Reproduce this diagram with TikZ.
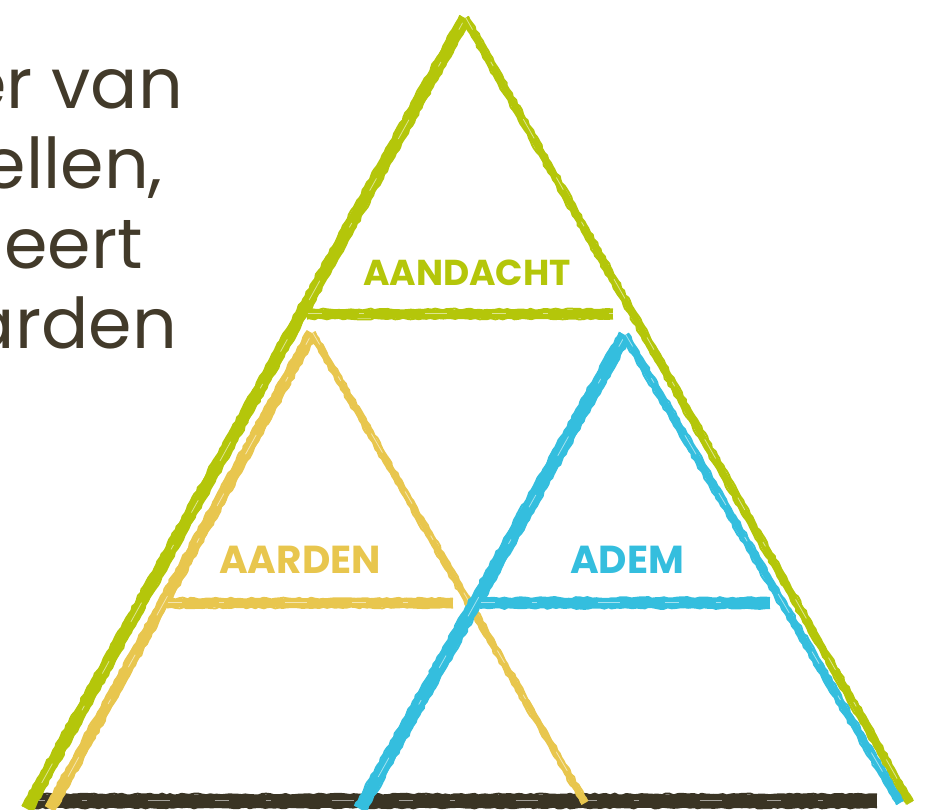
\documentclass[tikz,border=0pt]{standalone}
\usepackage{fontspec}
\setmainfont{Poppins}
\usetikzlibrary{calc, decorations.pathmorphing}
\definecolor{aandacht}{RGB}{180,198,10}
\definecolor{aarden}{RGB}{232,198,78}
\definecolor{adem}{RGB}{52,190,222}
\definecolor{grond}{RGB}{58,52,36}
\definecolor{tekst}{RGB}{66,58,42}
\tikzset{
    label text/.style={inner sep=0pt, font=\fontsize{#1}{#1}\selectfont\bfseries},
    body text/.style={inner sep=0pt, anchor=base east, text=tekst, font=\fontsize{70}{80}\selectfont},
    streak/.style={white, opacity=0.55, line width=0.8pt, dash pattern=on 14pt off 37pt on 5pt off 61pt on 22pt off 45pt},
    rough/.style={line width=2pt, line join=round, decorate, decoration={random steps, segment length=4pt, amplitude=0.9pt}},
}
\pgfmathsetseed{7}
% brush stroke between two named points: colour, width, from, to, half width
\newcommand{\brush}[5]{%
  \draw[#1, line width=#2, line cap=butt] (#3) -- (#4);
  \draw[#1, rough] ($(#3)!#5!90:(#4)$) -- ($(#4)!#5!-90:(#3)$);
  \draw[#1, rough] ($(#3)!#5!-90:(#4)$) -- ($(#4)!#5!90:(#3)$);
  \draw[streak, transform canvas={shift={(0.6pt,0.6pt)}}] (#3) -- (#4);
}
\begin{document}
\begin{tikzpicture}[x=1pt, y=-1pt]
    \useasboundingbox (0,0) rectangle (928,809);
    \clip (0,0) rectangle (928,809);

    % left text (cut off)
    \node[body text] (t1) at (183,108) {er van};
    \node[body text] (t2) at (163,188) {ellen,};
    \node[body text] (t3) at (143,268) {eert};
    \node[body text] (t4) at (177,348) {arden};

    % corner points
    \coordinate (gTop) at (465,18);
    \coordinate (gL) at (27,809);
    \coordinate (gR) at (910,803);
    \coordinate (gHL) at (307,314);
    \coordinate (gHR) at (613,314);
    \coordinate (yTop) at (312,333);
    \coordinate (yL) at (50,809);
    \coordinate (yR) at (585,803);
    \coordinate (yHL) at (167,603);
    \coordinate (yHR) at (453,603);
    \coordinate (bTop) at (625,335);
    \coordinate (bL) at (360,809);
    \coordinate (bR) at (900,803);
    \coordinate (bHL) at (480,603);
    \coordinate (bHR) at (770,603);
    \coordinate (baseL) at (30,801);
    \coordinate (baseR) at (877,801);

    % ground line
    \brush{grond}{13pt}{baseL}{baseR}{6.5pt}

    % green triangle
    \brush{aandacht}{11pt}{gTop}{gL}{5.5pt}
    \brush{aandacht}{6.5pt}{gTop}{gR}{3.5pt}
    \brush{aandacht}{8.5pt}{gHL}{gHR}{4.5pt}

    % yellow triangle
    \brush{aarden}{10pt}{yTop}{yL}{5pt}
    \brush{aarden}{5.5pt}{yTop}{yR}{3pt}
    \brush{aarden}{8.5pt}{yHL}{yHR}{4.5pt}

    % blue triangle
    \brush{adem}{12pt}{bTop}{bL}{6pt}
    \brush{adem}{6.5pt}{bTop}{bR}{3.5pt}
    \brush{adem}{9.5pt}{bHL}{bHR}{5pt}

    % labels
    \node[label text=36, text=aandacht] (lAandacht) at (467,273) {AANDACHT};
    \node[label text=39, text=aarden] (lAarden) at (300,560) {AARDEN};
    \node[label text=39, text=adem] (lAdem) at (627,560) {ADEM};
\end{tikzpicture}
\end{document}
